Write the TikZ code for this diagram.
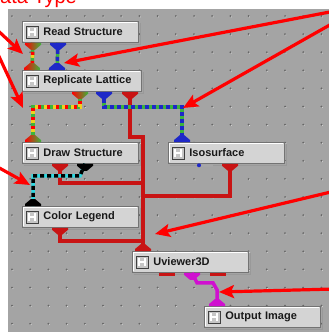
\documentclass[tikz,border=0pt]{standalone}
\usepackage{fontspec}
\setmainfont{Liberation Sans}
\usetikzlibrary{arrows.meta, calc}
\definecolor{panel}{HTML}{A4A4A4}
\definecolor{modfill}{HTML}{D4D4D4}
\definecolor{wirered}{HTML}{C81414}
\definecolor{notered}{HTML}{FF0000}
\definecolor{wiregreen}{HTML}{3CB43C}
\definecolor{wireyellow}{HTML}{F0D020}
\definecolor{wireblue}{HTML}{1E28C8}
\definecolor{wirecyan}{HTML}{30D8E0}
\definecolor{wiremag}{HTML}{D010D0}

\begin{document}
\begin{tikzpicture}[
    x=1pt, y=-1pt,
    module/.style={
        draw=black!55, fill=modfill, line width=0.8pt, anchor=north west,
        minimum height=21pt, inner sep=0pt, text width=116pt, align=left,
        font=\fontsize{11}{12}\selectfont\bfseries, text=black!90,
    },
    redwire/.style={wirered, line width=3.5pt},
    magwire/.style={wiremag, line width=3.5pt},
    rgywire/.style={
        wiregreen, line width=3.5pt,
        postaction={draw=wireyellow, dash pattern=on 3pt off 6pt, dash phase=6pt},
        postaction={draw=red, dash pattern=on 3pt off 6pt},
    },
    bgwire/.style={
        wiregreen, line width=3.5pt,
        postaction={draw=wireblue, dash pattern=on 4pt off 3pt},
    },
    cywire/.style={
        wirecyan, line width=3.5pt,
        postaction={draw=black, dash pattern=on 4pt off 3pt},
    },
    rgyport/.style={left color=red, middle color=wireyellow, right color=wiregreen},
    bgport/.style={left color=wireblue, middle color=wiregreen, right color=wireblue},
    cyport/.style={left color=black, middle color=wirecyan, right color=black},
    redport/.style={fill=wirered},
    magport/.style={fill=wiremag},
    notearrow/.style={
        notered, line width=3.2pt,
        -{Stealth[length=15pt, width=13pt, inset=3pt]},
    },
]

\useasboundingbox (0,0) rectangle (329,332);

% =============================================
% Network editor panel with dot grid
% =============================================
\fill[panel] (8,9) rectangle (329,332);
\foreach \i in {0,...,17} {
  \foreach \j in {0,...,17} {
    \fill[black!60] (12+18.2*\i,16+18.1*\j) circle (1);
    \fill[white!85!black] (12.9+18.2*\i,16.9+18.1*\j) circle (0.55);
  }
}

% Cropped title
\node[notered, font=\fontsize{20}{22}\selectfont, anchor=base west, inner sep=0pt] (title) at (-14.5,3) {Data Type};

% =============================================
% Modules
% =============================================
\node[module] (rs)  at (22,21)  {\hspace*{21pt}Read Structure};
\node[module, text width=119pt] (rl) at (22,70) {\hspace*{21pt}Replicate Lattice};
\node[module] (ds)  at (22,142) {\hspace*{21pt}Draw Structure};
\node[module] (iso) at (168,142) {\hspace*{21pt}Isosurface};
\node[module] (cl)  at (22,206) {\hspace*{21pt}Color Legend};
\node[module] (uv)  at (132,251) {\hspace*{21pt}Uviewer3D};
\node[module] (oi)  at (204,306) {\hspace*{21pt}Output Image};

% Bevel, shadow and icon on every module
\foreach \m in {rs,rl,ds,iso,cl,uv,oi} {
  \draw[white, line width=1pt] ($(\m.south west)+(1.3,-1.5)$) |- ($(\m.north east)+(-1.5,1.3)$);
  \draw[black!40, line width=1.2pt] ($(\m.south west)+(1.5,1.4)$) -| ($(\m.north east)+(1.4,1.5)$);
  \begin{scope}[shift={($(\m.west)+(10,0)$)}]
    \draw[fill=gray!45, draw=black!75, line width=0.6pt] (-6,-6) rectangle (6,6);
    \fill[white] (-4,-4) rectangle (-2,4);
    \fill[white] (2,-4) rectangle (4,4);
    \fill[white] (-2,-1) rectangle (2,1);
  \end{scope}
}

% Ports
\coordinate (rs-o1)  at ($(rs.south west)+(11,0)$);
\coordinate (rs-o2)  at ($(rs.south west)+(36,0)$);
\coordinate (rl-i1)  at ($(rl.north west)+(10,0)$);
\coordinate (rl-i2)  at ($(rl.north west)+(35,0)$);
\coordinate (rl-o1)  at ($(rl.south west)+(58,0)$);
\coordinate (rl-o2)  at ($(rl.south west)+(82,0)$);
\coordinate (rl-o3)  at ($(rl.south west)+(108,0)$);
\coordinate (ds-i1)  at ($(ds.north west)+(11,0)$);
\coordinate (ds-o1)  at ($(ds.south west)+(38,0)$);
\coordinate (ds-o2)  at ($(ds.south west)+(63,0)$);
\coordinate (iso-i1) at ($(iso.north west)+(14,0)$);
\coordinate (iso-o1) at ($(iso.south west)+(37,0)$);
\coordinate (iso-o2) at ($(iso.south west)+(62,0)$);
\coordinate (cl-i1)  at ($(cl.north west)+(11,0)$);
\coordinate (cl-o1)  at ($(cl.south west)+(38,0)$);
\coordinate (uv-i1)  at ($(uv.north west)+(11,0)$);
\coordinate (uv-o1)  at ($(uv.south west)+(35,0)$);
\coordinate (uv-o2)  at ($(uv.south west)+(60,0)$);
\coordinate (uv-o3)  at ($(uv.south west)+(86,0)$);
\coordinate (oi-i1)  at ($(oi.north west)+(13,0)$);

% =============================================
% Wires
% =============================================
\draw[redwire] (rl-o3) -- ++(0,45) -| (uv-i1);
\draw[redwire] (ds-o1) -- ++(0,19) -| (uv-i1);
\draw[redwire] (iso-o2) -- ++(0,32) -| (uv-i1);
\draw[redwire] (cl-o1) -- ++(0,13) -| (uv-i1);
\draw[rgywire] (rs-o1) -- (rl-i1);
\draw[bgwire] (rs-o2) -- (rl-i2);
\draw[rgywire] (rl-o1) -- ++(0,15) -| (ds-i1);
\draw[bgwire] (rl-o2) -- ++(0,15) -| (iso-i1);
\draw[cywire] (ds-o2) -- ++(-5,12) -| (cl-i1);
\draw[magwire] (uv-o2) -- ++(5,10) -- ++(16,0) -- ++(4,7) -- (oi-i1);

% Output ports (funnels under the modules)
\foreach \p/\s in {rs-o1/rgyport, rs-o2/bgport, rl-o1/rgyport, rl-o2/bgport,
                   rl-o3/redport, ds-o1/redport, ds-o2/cyport, iso-o2/redport,
                   cl-o1/redport, uv-o2/magport} {
  \path[\s] (\p) ++(-8,0) -- ++(16,0) -- ++(0,2) -- ++(-6,5) -- ++(-4,0) -- ++(-6,-5) -- cycle;
}
% Input ports (forks on top of the modules)
\foreach \p/\s in {rl-i1/rgyport, rl-i2/bgport, ds-i1/rgyport, iso-i1/bgport,
                   cl-i1/cyport, uv-i1/redport, oi-i1/magport} {
  \path[\s] (\p) ++(-8,0) -- ++(16,0) -- ++(0,-2) -- ++(-6,-5) -- ++(-4,0) -- ++(-6,5) -- cycle;
}
% Unconnected ports
\fill[wirered] ($(uv-o1)+(-8,0)$) rectangle ($(uv-o1)+(8,3)$);
\fill[wirered] ($(uv-o3)+(-8,0)$) rectangle ($(uv-o3)+(8,3)$);
\fill[gray!70] ($(iso-o1)+(-5,0)$) rectangle ($(iso-o1)+(8,3)$);
\fill[wireblue] ($(iso-o1)+(-6,1.5)$) circle (2);

% =============================================
% Call-out arrows
% =============================================
\coordinate (fromA) at (-6,27);   \coordinate (tipA) at (23,54);
\coordinate (fromB) at (-4,50);   \coordinate (tipB) at (23,108);
\coordinate (fromC) at (-6,165);  \coordinate (tipC) at (30,185);
\coordinate (fromD) at (335,11);  \coordinate (tipD) at (64,63);
\coordinate (fromE) at (335,22);  \coordinate (tipE) at (183,108);
\coordinate (fromF) at (335,191); \coordinate (tipF) at (155,234);
\coordinate (fromG) at (335,289); \coordinate (tipG) at (219,292);
\foreach \a in {A,B,C,D,E,F,G}
  \draw[notearrow] (from\a) -- (tip\a);

\end{tikzpicture}
\end{document}
